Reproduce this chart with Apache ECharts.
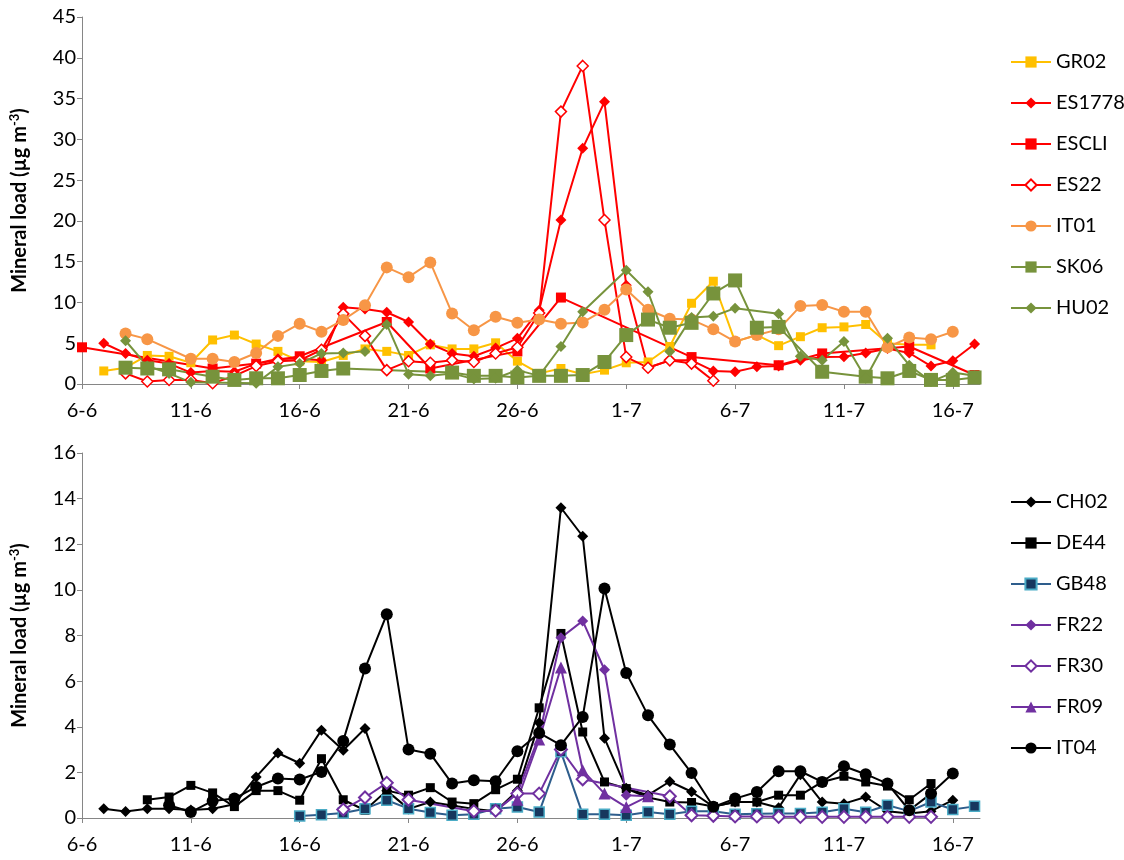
<!DOCTYPE html>
<html>
<head>
<meta charset="utf-8">
<script src="https://cdn.jsdelivr.net/npm/echarts@6/dist/echarts.min.js"></script>
<style>
html,body{margin:0;padding:0;background:#fff;}
#chart{width:1124px;height:860px;}
</style>
</head>
<body>
<div id="chart"></div>
<script>
const dates = ['6-6','7-6','8-6','9-6','10-6','11-6','12-6','13-6','14-6','15-6','16-6','17-6','18-6','19-6','20-6','21-6','22-6','23-6','24-6','25-6','26-6','27-6','28-6','29-6','30-6','1-7','2-7','3-7','4-7','5-7','6-7','7-7','8-7','9-7','10-7','11-7','12-7','13-7','14-7','15-7','16-7','17-7'];
const tickLabels = ['6-6','11-6','16-6','21-6','26-6','1-7','6-7','11-7','16-7'];

// Top panel
const GR02 = [null,1.6,2.0,3.5,3.4,2.6,5.4,6.0,4.9,4.0,2.8,2.7,3.5,4.3,4.0,3.5,4.8,4.3,4.3,5.05,2.8,1.3,1.9,1.2,1.7,2.6,2.7,4.6,9.9,12.6,5.2,6.0,4.7,5.8,6.9,7.0,7.3,5.0,4.8,4.8,null,null];
const ES1778 = [null,5.0,3.75,2.9,2.5,1.4,1.6,1.5,2.5,3.1,3.1,2.9,9.4,9.2,8.8,7.6,4.9,3.75,3.4,4.4,5.6,9.05,20.1,28.9,34.6,12.1,2.0,2.9,2.9,1.6,1.5,2.1,2.2,2.9,3.3,3.35,3.8,4.35,3.8,2.2,2.85,4.9];
const ESCLI = [4.5,null,null,null,null,null,1.9,null,2.5,null,3.4,null,null,null,7.6,null,1.9,null,null,null,4.0,null,10.6,null,null,null,null,null,3.3,null,null,null,2.3,null,3.75,null,null,null,4.6,null,null,1.1];
const ES22 = [null,null,1.3,0.3,0.5,0.5,0.1,1.0,2.2,2.8,2.9,4.2,8.6,5.9,1.7,2.8,2.6,2.9,2.7,3.75,4.5,8.7,33.4,39.0,20.1,3.3,2.0,2.9,2.5,0.4,null,null,null,null,null,null,null,null,null,null,null,null];
const IT01 = [null,null,6.2,5.5,null,3.1,3.1,2.7,3.8,5.9,7.4,6.4,7.85,9.65,14.3,13.1,14.9,8.65,6.6,8.25,7.5,7.9,7.4,7.55,9.1,11.6,9.1,8.0,7.9,6.7,5.2,6.0,6.7,9.55,9.7,8.85,8.85,4.5,5.7,5.5,6.4,null];
const SK06 = [null,null,2.0,1.9,1.8,null,0.9,0.5,0.7,0.7,1.1,1.6,1.9,null,null,null,null,1.4,1.0,1.0,0.8,1.0,1.0,1.1,2.7,6.0,7.9,6.9,7.5,11.1,12.7,6.9,7.0,null,1.5,null,0.9,0.7,1.6,0.5,0.5,0.8];
const HU02 = [null,null,5.3,2.2,1.3,0.2,null,null,0.1,2.1,2.5,3.75,3.8,4.0,7.3,1.2,1.0,1.3,0.6,0.7,1.7,1.0,4.6,8.85,null,13.95,11.3,4.0,8.15,8.3,9.3,null,8.6,3.4,2.9,5.2,0.7,5.6,2.3,0.3,1.4,1.0];

// Bottom panel
const CH02 = [null,0.41,0.29,0.41,0.41,0.35,0.41,0.6,1.8,2.85,2.4,3.85,2.97,3.92,1.2,0.4,0.7,0.55,0.4,0.3,1.2,4.17,13.6,12.35,3.5,1.3,1.0,1.6,1.15,0.5,0.7,0.7,0.45,1.9,0.7,0.63,0.92,0.3,0.2,0.3,0.78,null];
const DE44 = [null,null,null,0.8,0.92,1.43,1.1,0.5,1.2,1.2,0.78,2.6,0.8,0.34,1.2,1.0,1.33,0.7,0.63,1.24,1.7,4.83,8.09,3.77,1.58,1.29,0.9,0.7,0.68,0.5,0.7,0.7,1.0,1.0,1.58,1.83,1.58,1.4,0.8,1.51,null,null];
const GB48 = [null,null,null,null,null,null,null,null,null,null,0.09,0.14,0.22,0.41,0.78,0.41,0.24,0.12,0.16,0.41,0.48,0.26,2.9,0.16,0.16,0.12,0.26,0.16,0.3,0.3,0.16,0.19,0.2,0.2,0.25,0.41,0.25,0.56,0.3,0.7,0.37,0.51];
const FR22 = [null,null,null,null,null,null,null,null,null,null,null,null,null,null,null,null,null,null,null,0.3,1.1,3.6,7.9,8.64,6.5,1.0,0.95,null,null,null,null,null,null,null,null,null,null,null,null,null,null,null];
const FR30 = [null,null,null,null,null,null,null,null,null,null,null,null,0.37,0.9,1.54,0.8,null,null,0.3,0.32,1.07,1.07,3.0,1.7,null,null,null,0.95,0.12,0.1,0.07,0.07,0.05,0.05,0.05,0.05,0.05,0.05,0.05,0.05,null,null];
const FR09 = [null,null,null,null,null,null,null,null,null,null,null,null,null,null,null,null,null,null,null,null,0.8,3.44,6.6,2.09,1.07,0.48,0.95,null,null,null,null,null,null,null,null,null,null,null,null,null,null,null];
const IT04 = [null,null,null,null,0.56,0.26,0.75,0.85,1.36,1.73,1.69,2.02,3.38,6.55,8.93,3.0,2.82,1.51,1.65,1.61,2.93,3.73,3.19,4.43,10.06,6.36,4.5,3.22,1.97,0.49,0.85,1.14,2.05,2.05,1.58,2.27,1.92,1.51,0.34,1.07,1.95,null];

const FONT = 'Lato, "Liberation Sans", sans-serif';
const FS = 20;
const tickPos = tickLabels.map(l => dates.indexOf(l));
const AXIS_COLOR = '#868686';

function mk(name, arr, axis, opts) {
  return {
    name: name,
    type: 'line',
    xAxisIndex: axis, yAxisIndex: axis,
    data: arr.map((v, i) => [i, v]),
    connectNulls: true,
    symbol: opts.symbol,
    symbolSize: opts.size,
    lineStyle: { color: opts.line, width: 2 },
    itemStyle: { color: opts.fill, borderColor: opts.border || opts.fill, borderWidth: opts.bw || 0 },
    emphasis: { disabled: true },
    z: 2
  };
}

function xAx(grid) {
  return {
    type: 'value', gridIndex: grid, min: 0, max: 41.25,
    axisLine: { show: true, lineStyle: { color: AXIS_COLOR, width: 1 } },
    axisTick: { show: true, customValues: tickPos, length: 5, lineStyle: { color: AXIS_COLOR } },
    axisLabel: { customValues: tickPos, formatter: v => dates[Math.round(v)], fontSize: FS, fontFamily: FONT, color: '#000', margin: 17 },
    splitLine: { show: false }
  };
}
function yAx(grid, max, interval) {
  return {
    type: 'value', gridIndex: grid, min: 0, max: max, interval: interval,
    axisLine: { show: true, lineStyle: { color: AXIS_COLOR, width: 1 } },
    axisTick: { show: true, length: 5, lineStyle: { color: AXIS_COLOR } },
    axisLabel: { fontSize: FS, fontFamily: FONT, color: '#000', margin: 6 },
    splitLine: { show: false },
    name: '{a|Mineral load (µg m}{s|-3}{a|)}',
    nameLocation: 'middle', nameGap: 50, nameRotate: 90,
    nameTextStyle: {
      rich: {
        a: { fontSize: 20, fontWeight: 'bold', fontFamily: FONT, color: '#000', lineHeight: 24 },
        s: { fontSize: 13, fontWeight: 'bold', fontFamily: FONT, color: '#000', lineHeight: 24, verticalAlign: 'top' }
      }
    }
  };
}

const RED = '#FF0000', GREEN = '#77933C', PURPLE = '#7030A0';
const series = [
  mk('GR02', GR02, 0, { symbol: 'rect', size: 9, line: '#FFC000', fill: '#FFC000' }),
  mk('ES1778', ES1778, 0, { symbol: 'diamond', size: 11, line: RED, fill: RED }),
  mk('ESCLI', ESCLI, 0, { symbol: 'rect', size: 10, line: RED, fill: RED }),
  mk('ES22', ES22, 0, { symbol: 'diamond', size: 11, line: RED, fill: '#fff', border: RED, bw: 1.5 }),
  mk('IT01', IT01, 0, { symbol: 'circle', size: 12, line: '#F79646', fill: '#F79646' }),
  mk('SK06', SK06, 0, { symbol: 'rect', size: 14, line: GREEN, fill: GREEN }),
  mk('HU02', HU02, 0, { symbol: 'diamond', size: 11, line: GREEN, fill: GREEN }),
  mk('CH02', CH02, 1, { symbol: 'diamond', size: 11, line: '#000', fill: '#000' }),
  mk('DE44', DE44, 1, { symbol: 'rect', size: 9, line: '#000', fill: '#000' }),
  mk('GB48', GB48, 1, { symbol: 'rect', size: 10, line: '#2E5D8C', fill: '#17375E', border: '#4BACC6', bw: 1.5 }),
  mk('FR22', FR22, 1, { symbol: 'diamond', size: 11, line: PURPLE, fill: PURPLE }),
  mk('FR30', FR30, 1, { symbol: 'diamond', size: 12, line: PURPLE, fill: '#fff', border: PURPLE, bw: 2 }),
  mk('FR09', FR09, 1, { symbol: 'triangle', size: 12, line: PURPLE, fill: PURPLE }),
  mk('IT04', IT04, 1, { symbol: 'circle', size: 12, line: '#000', fill: '#000' })
];

const legendBase = {
  orient: 'vertical', left: 1010, itemWidth: 40, itemHeight: 14, itemGap: 21,
  padding: 0,
  selectedMode: false,
  textStyle: { fontSize: FS, fontFamily: FONT, color: '#000' }
};

const chart = echarts.init(document.getElementById('chart'), null, { renderer: 'canvas' });
chart.setOption({
  animation: false,
  backgroundColor: '#fff',
  grid: [
    { left: 80, top: 17, width: 900, height: 367 },
    { left: 80, top: 453, width: 900, height: 365 }
  ],
  xAxis: [xAx(0), xAx(1)],
  yAxis: [yAx(0, 45, 5), yAx(1, 16, 2)],
  legend: [
    Object.assign({}, legendBase, { top: 52, data: ['GR02','ES1778','ESCLI','ES22','IT01','SK06','HU02'] }),
    Object.assign({}, legendBase, { top: 492, data: ['CH02','DE44','GB48','FR22','FR30','FR09','IT04'] })
  ],
  series: series
});
</script>
</body>
</html>
